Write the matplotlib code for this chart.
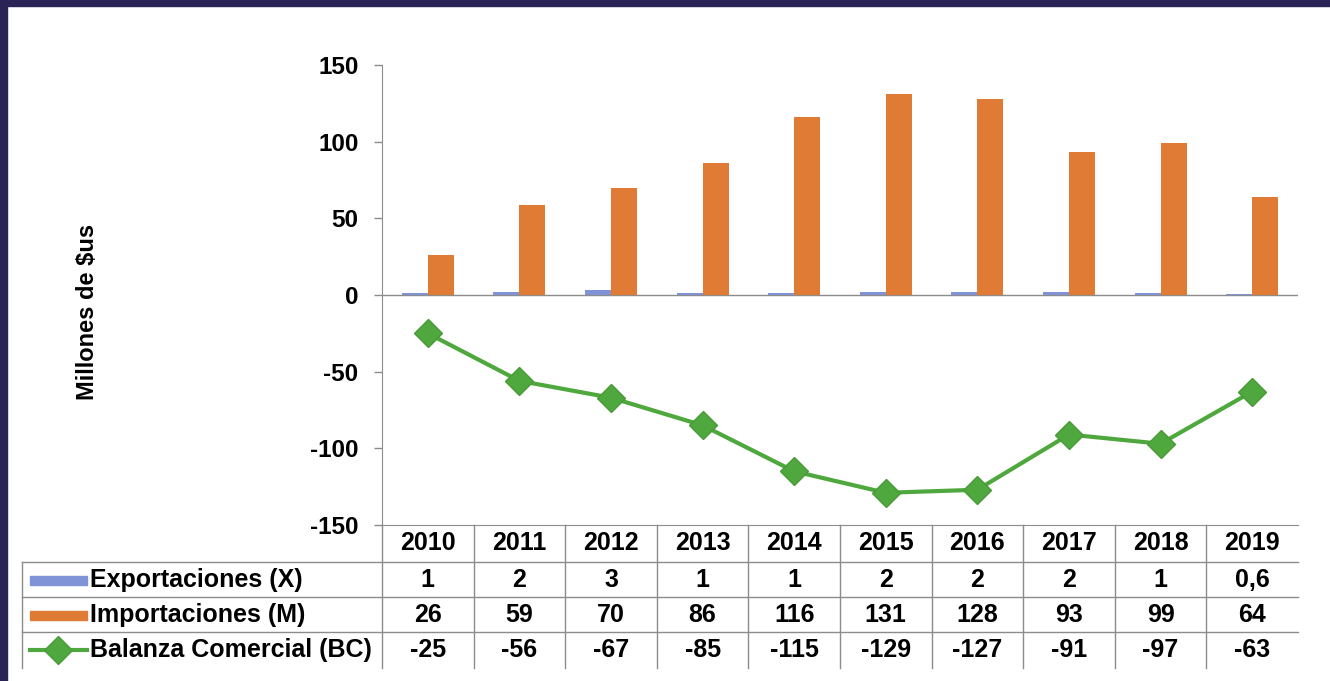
import matplotlib.pyplot as plt
import matplotlib.transforms as mtransforms
from matplotlib.patches import Rectangle
from matplotlib.lines import Line2D

plt.rcParams['font.family'] = ['Liberation Sans', 'DejaVu Sans']
plt.rcParams['font.weight'] = 'bold'

years = ['2010', '2011', '2012', '2013', '2014', '2015', '2016', '2017', '2018', '2019']
exportaciones = [1, 2, 3, 1, 1, 2, 2, 2, 1, 0.6]
importaciones = [26, 59, 70, 86, 116, 131, 128, 93, 99, 64]
balanza = [-25, -56, -67, -85, -115, -129, -127, -91, -97, -63]

exp_labels = ['1', '2', '3', '1', '1', '2', '2', '2', '1', '0,6']
imp_labels = ['26', '59', '70', '86', '116', '131', '128', '93', '99', '64']
bc_labels = ['-25', '-56', '-67', '-85', '-115', '-129', '-127', '-91', '-97', '-63']
row_names = ['Exportaciones (X)', 'Importaciones (M)', 'Balanza Comercial (BC)']

c_exp = '#7f93d6'
c_imp = '#e07b35'
c_bc = '#4fa83d'
c_grid = '#8c8c8c'

W, H = 1330, 681
fig = plt.figure(figsize=(W / 100, H / 100), dpi=100)
fig.patch.set_facecolor('white')

# marco oscuro arriba e izquierda
fig.patches.append(Rectangle((0, 1 - 6 / H), 1, 6 / H, transform=fig.transFigure,
                             color='#2a2356', zorder=0))
fig.patches.append(Rectangle((0, 0), 7 / W, 1, transform=fig.transFigure,
                             color='#2a2356', zorder=0))

ax_l, ax_r, ax_t, ax_b = 382, 1298, 65, 525
ax = fig.add_axes([ax_l / W, 1 - ax_b / H, (ax_r - ax_l) / W, (ax_b - ax_t) / H])

x = list(range(len(years)))
bw = 0.284
ax.bar([i - bw / 2 for i in x], exportaciones, width=bw, color=c_exp, zorder=2)
ax.bar([i + bw / 2 for i in x], importaciones, width=bw, color=c_imp, zorder=2)
ax.plot(x, balanza, color=c_bc, lw=3, marker='D', markersize=14,
        markerfacecolor=c_bc, markeredgecolor='#4a9a3a', zorder=3)

ax.set_xlim(-0.5, 9.5)
ax.set_ylim(-150, 150)
ax.set_yticks([-150, -100, -50, 0, 50, 100, 150])
ax.set_yticklabels(['-150', '-100', '-50', '0', '50', '100', '150'])
ax.tick_params(axis='y', length=6, width=1, color=c_grid, pad=11, labelsize=17.5)
ax.set_xticks([])
ax.axhline(0, color=c_grid, lw=1, zorder=1)
for side in ['top', 'right']:
    ax.spines[side].set_visible(False)
ax.spines['left'].set_color(c_grid)
ax.spines['bottom'].set_color(c_grid)
ax.set_facecolor('white')

fig.text(88 / W, 1 - 312 / H, 'Millones de $us', rotation=90, ha='center',
         va='center', fontsize=17, fontweight='bold')

# tabla de datos bajo el eje
def yf(py):
    return (ax_b - py) / (ax_b - ax_t)

def xf(px):
    return (px - ax_l) / (ax_r - ax_l)

blend = mtransforms.blended_transform_factory(ax.transData, ax.transAxes)
row_lines = [562, 597, 632]
bottom = 668
for py in row_lines:
    ax.add_line(Line2D([xf(22), 1], [yf(py), yf(py)], transform=ax.transAxes,
                       color=c_grid, lw=1, clip_on=False))
for i in range(1, len(years)):
    ax.add_line(Line2D([i - 0.5, i - 0.5], [0, yf(bottom)], transform=blend,
                       color=c_grid, lw=1, clip_on=False))
ax.add_line(Line2D([-0.5, -0.5], [0, yf(bottom)], transform=blend,
                   color=c_grid, lw=1, clip_on=False))
ax.add_line(Line2D([xf(22), xf(22)], [yf(562), yf(bottom)], transform=ax.transAxes,
                   color=c_grid, lw=1, clip_on=False))

fs = 18
row_centers = [543, 580, 615, 650]
for i, yr in enumerate(years):
    ax.text(i, yf(row_centers[0]), yr, transform=blend, ha='center', va='center',
            fontsize=fs, fontweight='bold')
for r, labels in enumerate([exp_labels, imp_labels, bc_labels]):
    for i, lab in enumerate(labels):
        ax.text(i, yf(row_centers[r + 1]), lab, transform=blend, ha='center',
                va='center', fontsize=fs, fontweight='bold')
    ax.text(xf(90), yf(row_centers[r + 1]), row_names[r], transform=ax.transAxes,
            ha='left', va='center', fontsize=fs, fontweight='bold')

# claves de leyenda
kh = 9 / (ax_b - ax_t)
for r, col in enumerate([c_exp, c_imp]):
    ax.add_patch(Rectangle((xf(30), yf(row_centers[r + 1]) - kh / 2), xf(87) - xf(30), kh,
                           transform=ax.transAxes, color=col, clip_on=False))
ax.add_line(Line2D([xf(30), xf(87)], [yf(row_centers[3])] * 2, transform=ax.transAxes,
                   color=c_bc, lw=3, clip_on=False))
ax.add_line(Line2D([xf(58)], [yf(row_centers[3])], transform=ax.transAxes, marker='D',
                   markersize=14, color=c_bc, markeredgecolor='#4a9a3a', clip_on=False))

fig.savefig('out.png', dpi=100)
